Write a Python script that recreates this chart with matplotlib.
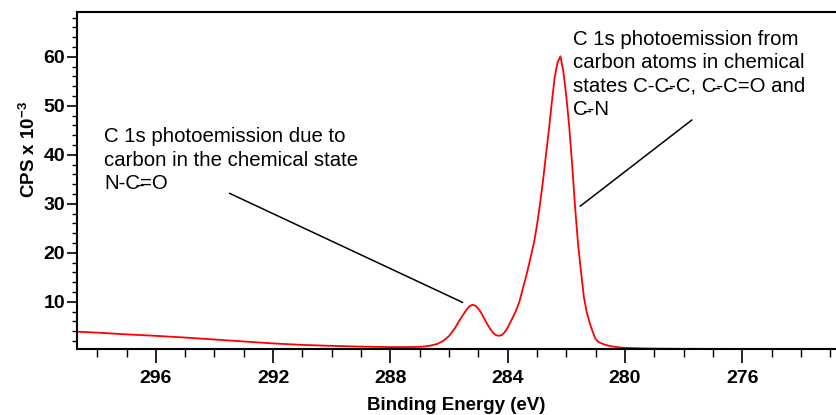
import matplotlib
matplotlib.use("Agg")
import matplotlib.pyplot as plt
from matplotlib.ticker import MultipleLocator

plt.rcParams['font.family'] = ['Liberation Sans', 'DejaVu Sans']
plt.rcParams['mathtext.fontset'] = 'custom'
plt.rcParams['mathtext.rm'] = 'Liberation Sans'
plt.rcParams['mathtext.bf'] = 'Liberation Sans:bold'

# C 1s spectrum (binding energy in eV, counts per second / 1000)
energy = [298.7, 298.0, 297.0, 296.0, 295.0, 294.0, 293.0, 292.0, 291.0, 290.0,
          289.0, 288.0, 287.5, 287.0, 286.8, 286.6, 286.4, 286.2, 286.0, 285.8,
          285.6, 285.4, 285.3, 285.2, 285.1, 285.0, 284.9, 284.8, 284.7, 284.6,
          284.5, 284.4, 284.3, 284.2, 284.1, 284.0, 283.9, 283.8, 283.7, 283.6,
          283.5, 283.4, 283.3, 283.2, 283.1, 283.0, 282.9, 282.8, 282.7, 282.6,
          282.5, 282.4, 282.3, 282.2, 282.1, 282.0, 281.9, 281.8, 281.7, 281.6,
          281.5, 281.4, 281.3, 281.2, 281.1, 281.0, 280.9, 280.8, 280.6, 280.4,
          280.2, 280.0, 279.5, 279.0, 278.0, 276.0, 274.0, 272.8]
cps = [3.9, 3.7, 3.35, 3.05, 2.7, 2.3, 1.9, 1.5, 1.2, 1.0,
       0.85, 0.75, 0.75, 0.8, 0.9, 1.1, 1.4, 2.0, 3.0, 4.6,
       6.6, 8.4, 9.1, 9.4, 9.2, 8.6, 7.7, 6.6, 5.5, 4.5,
       3.7, 3.2, 3.05, 3.2, 3.8, 4.7, 5.9, 7.1, 8.4, 10.0,
       12.3, 14.5, 16.9, 19.5, 22.1, 25.6, 29.8, 34.4, 39.6, 44.7,
       50.3, 55.6, 58.8, 60.1, 57.0, 52.0, 45.8, 38.0, 29.4, 21.9,
       16.3, 11.0, 7.8, 5.7, 3.9, 2.4, 1.8, 1.5, 1.1, 0.85,
       0.7, 0.6, 0.5, 0.45, 0.4, 0.38, 0.35, 0.35]

x_ticks = [296, 292, 288, 284, 280, 276]
y_ticks = [10, 20, 30, 40, 50, 60]

S = "\u0335"  # short stroke marking the carbon atom
note_left = "C 1s photoemission due to\ncarbon in the chemical state\nN-C" + S + "=O"
note_right = ("C 1s photoemission from\ncarbon atoms in chemical\n"
              "states C-C" + S + "-C, C" + S + "-C=O and\nC" + S + "-N")

fig = plt.figure(figsize=(8.36, 4.15), dpi=100)
ax = fig.add_axes([0.0917, 0.1583, 0.9083, 0.8135])

ax.plot(energy, cps, color='#ff0000', lw=1.3)

ax.set_xlim(298.7, 272.8)
ax.set_ylim(0.3, 69.2)
ax.set_xticks(x_ticks)
ax.set_yticks(y_ticks)
ax.xaxis.set_minor_locator(MultipleLocator(1))
ax.yaxis.set_minor_locator(MultipleLocator(2))

ax.spines['right'].set_visible(False)
for side in ['left', 'bottom', 'top']:
    ax.spines[side].set_linewidth(1.5)

ax.tick_params(axis='x', which='major', length=10, width=1.2, pad=5, labelsize=14)
ax.tick_params(axis='x', which='minor', length=5.8, width=1.0)
ax.tick_params(axis='y', which='major', length=7.2, width=1.2, pad=1, labelsize=14)
ax.tick_params(axis='y', which='minor', length=3.6, width=1.0)
for lab in ax.get_xticklabels() + ax.get_yticklabels():
    lab.set_fontweight('bold')

ax.set_xlabel('Binding Energy (eV)', fontsize=13.5, fontweight='bold', labelpad=7)
fig.text(28.7 / 836, 1 - 149.5 / 415, r'CPS x 10$^{\mathbf{-3}}$', rotation=90,
         ha='center', va='center', fontsize=13.5, fontweight='bold')

# va='baseline' puts the last line's baseline at the given y
ax.text(297.77, 32.94, note_left, fontsize=14.7, va='baseline', ha='left',
        linespacing=1.3)
ax.text(281.76, 48.1, note_right, fontsize=14.7, va='baseline', ha='left',
        linespacing=1.3)

ax.plot([293.48, 285.54], [32.12, 9.88], color='black', lw=1.1)
ax.plot([277.72, 281.52], [47.08, 29.53], color='black', lw=1.1)

fig.savefig('out.png', dpi=100)
